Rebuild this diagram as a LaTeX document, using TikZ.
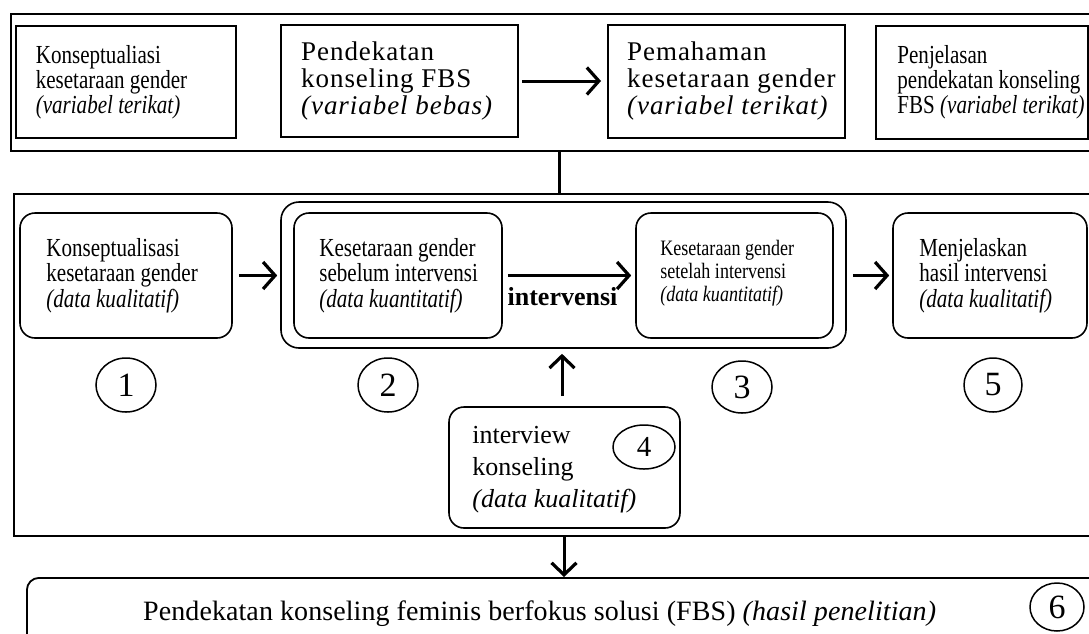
\documentclass[tikz,border=0pt]{standalone}
\usepackage{fontspec}
\setmainfont{Liberation Serif}
\newfontfamily\condfont{Liberation Serif}[FakeStretch=0.81]
\newfontfamily\condsfont{Liberation Serif}[FakeStretch=0.82]
\newfontfamily\widefont{Liberation Serif}[LetterSpace=3.5]
\newfontfamily\botfont{Liberation Serif}[LetterSpace=0.3]
\usetikzlibrary{arrows.meta,shapes.geometric}
\begin{document}
\begin{tikzpicture}[x=1pt,y=-1pt,
  frame/.style={draw,line width=1.8pt,anchor=north west,inner sep=0pt,minimum width=1100pt},
  sqbox/.style={draw,line width=2pt,inner sep=0pt},
  rbox/.style={draw,line width=1.6pt,rounded corners=15pt,inner sep=0pt},
  txt/.style={anchor=west,align=left,inner sep=0pt},
  num/.style={draw,ellipse,line width=1.5pt,inner sep=0pt,font=\fontsize{34}{34}\selectfont},
  arr/.style={line width=3pt,-{Straight Barb[length=12pt,width=27pt,line width=3.2pt]}},
  arrv/.style={line width=3pt,-{Straight Barb[length=12pt,width=25pt,line width=3.2pt]}},
  condA/.style={font=\condfont\fontsize{26}{25}\selectfont},
  condM/.style={font=\condfont\fontsize{26}{25.5}\selectfont},
  condS/.style={font=\condsfont\fontsize{22}{23}\selectfont},
  wideT/.style={font=\widefont\fontsize{27}{27}\selectfont},
]
\useasboundingbox (0,0) rectangle (1089,633);
\clip (0,0) rectangle (1089,633);

% ---- top frame ----
\node[frame,minimum height=137pt] (topf) at (9.7,13) {};
\node[sqbox,minimum width=220.4pt,minimum height=112pt] (bA) at (125.8,82) {};
\node[txt,condA] (tA) at ([xshift=21pt]bA.west) {Konseptualiasi\\kesetaraan gender\\\textit{(variabel terikat)}};
\node[sqbox,minimum width=237pt,minimum height=112pt] (bB) at (399.5,81) {};
\node[txt,wideT] (tB) at ([xshift=21pt]bB.west) {Pendekatan\\konseling FBS\\\textit{(variabel bebas)}};
\node[sqbox,minimum width=237pt,minimum height=113pt] (bC) at (726.5,81.5) {};
\node[txt,wideT] (tC) at ([xshift=20pt]bC.west) {Pemahaman\\kesetaraan gender\\\textit{(variabel terikat)}};
\node[sqbox,line width=1.6pt,minimum width=212pt,minimum height=113pt] (bD) at (982,82.5) {};
\node[txt,condA] (tD) at ([xshift=22pt]bD.west) {Penjelasan\\pendekatan konseling\\FBS \textit{(variabel terikat)}};
\draw[arr] ([xshift=3pt]bB.east) -- ([xshift=-6pt]bC.west |- bB.east);

% ---- middle frame ----
\node[frame,minimum height=342pt] (midf) at (13,193) {};
\coordinate (vx) at (559,0);
\draw[line width=3pt] (vx |- topf.south) -- (vx |- midf.north);

\node[rbox,minimum width=212pt,minimum height=125pt] (b1) at (126,275.5) {};
\node[txt,condM] (t1) at ([xshift=27pt]b1.west) {Konseptualisasi\\kesetaraan gender\\\textit{(data kualitatif)}};
\node[rbox,rounded corners=18pt,minimum width=565pt,minimum height=146pt] (grp) at (563.5,275) {};
\node[rbox,minimum width=208pt,minimum height=125pt] (b2) at (398,275.5) {};
\node[txt,condM] (t2) at ([xshift=26pt]b2.west) {Kesetaraan gender\\sebelum intervensi\\\textit{(data kuantitatif)}};
\node[rbox,minimum width=197pt,minimum height=125pt] (b3) at (734.5,275.5) {};
\node[txt,condS] (t3) at ([xshift=25pt,yshift=2pt]b3.west) {Kesetaraan gender\\setelah intervensi\\\textit{(data kuantitatif)}};
\node[rbox,minimum width=194pt,minimum height=125pt] (b5) at (990,275.5) {};
\node[txt,condM] (t5) at ([xshift=27pt]b5.west) {Menjelaskan\\hasil intervensi\\\textit{(data kualitatif)}};

\draw[arr] ([xshift=6pt]b1.east) -- ([xshift=-3pt]grp.west |- b1.east);
\draw[arr] ([xshift=5pt]b2.east) -- ([xshift=-4pt]b3.west);
\node[anchor=base,inner sep=0pt,font=\bfseries\fontsize{26}{26}\selectfont] (lint) at (562.5,305) {intervensi};
\draw[arr] ([xshift=6pt]grp.east |- b3.east) -- ([xshift=-3pt]b5.west);

\node[num,minimum width=60pt,minimum height=54pt] (n1) at (126,385) {1};
\node[num,minimum width=60pt,minimum height=54pt] (n2) at (388,385) {2};
\node[num,minimum width=60pt,minimum height=52pt] (n3) at (742,387) {3};
\node[num,minimum width=58pt,minimum height=54pt] (n5) at (993,385) {5};

\node[rbox,minimum width=231pt,minimum height=121pt] (b4) at (564.5,467.5) {};
\node[txt,font=\fontsize{26}{32}\selectfont] (t4) at ([xshift=24pt,yshift=-2pt]b4.west) {interview\\konseling\\\textit{(data kualitatif)}};
\node[num,minimum width=62pt,minimum height=44pt,font=\fontsize{29}{29}\selectfont] (n4) at (644,447) {4};
\coordinate (ua) at (562,0);
\draw[arrv] ([yshift=10pt]ua |- b4.north) -- ([yshift=-5pt]ua |- grp.south);

% ---- bottom frame ----
\node[frame,rounded corners=12pt,minimum height=90pt] (botf) at (26,577) {};
\coordinate (da) at (564,0);
\draw[arrv] (da |- midf.south) -- (da |- botf.north);
\node[anchor=base west,inner sep=0pt,font=\botfont\fontsize{28}{28}\selectfont] (tbot) at (143,620) {Pendekatan konseling feminis berfokus solusi (FBS) \textit{(hasil penelitian)}};
\node[num,minimum width=54pt,minimum height=48pt] (n6) at (1057,607) {6};
\end{tikzpicture}
\end{document}
